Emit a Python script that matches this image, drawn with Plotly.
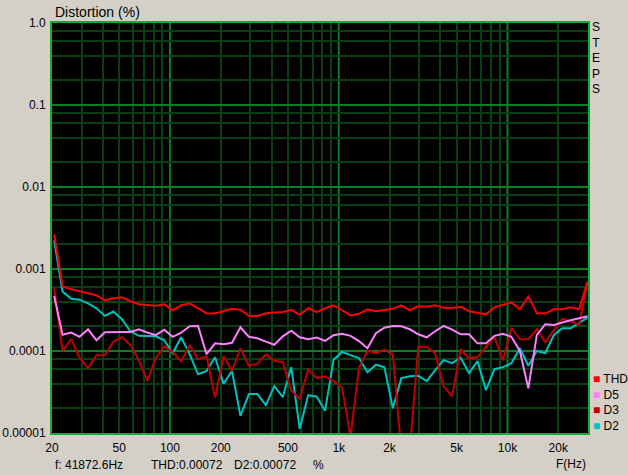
import math
import plotly.graph_objects as go

# ---------------- data ----------------
freq_hz = [20.6, 23.1, 26.0, 29.1, 32.7, 36.7, 41.2, 46.2, 51.9, 58.3,
           65.4, 73.4, 82.4, 92.5, 103.8, 116.5, 130.8, 146.8, 164.8, 185.0,
           207.7, 233.1, 261.6, 293.7, 329.6, 370.0, 415.3, 466.2, 523.3, 587.3,
           659.3, 740.0, 830.6, 932.3, 1046.5, 1174.7, 1318.5, 1480.0, 1661.2, 1864.7,
           2093.0, 2349.3, 2637.0, 2960.0, 3322.4, 3729.3, 4186.0, 4698.6, 5274.0, 5919.9,
           6644.9, 7458.6, 8372.0, 9397.3, 10548, 11840, 13290, 14917, 16744, 18795,
           21096, 23680, 26580, 29834]

thd = [2.64e-3, 6.14e-4, 5.65e-4, 5.34e-4, 5.05e-4, 4.77e-4, 4.15e-4, 4.39e-4, 4.51e-4, 4.04e-4,
       3.71e-4, 3.61e-4, 3.56e-4, 3.71e-4, 3.14e-4, 3.61e-4, 3.82e-4, 3.32e-4, 2.88e-4, 2.86e-4,
       3.05e-4, 3.27e-4, 3.18e-4, 2.69e-4, 2.67e-4, 2.88e-4, 2.94e-4, 2.99e-4, 3.18e-4, 2.76e-4,
       3.32e-4, 2.97e-4, 3.32e-4, 3.61e-4, 3.14e-4, 2.72e-4, 2.84e-4, 3.23e-4, 3.05e-4, 3.18e-4,
       3.27e-4, 3.61e-4, 3.14e-4, 3.51e-4, 3.46e-4, 3.61e-4, 3.36e-4, 3.34e-4, 3.46e-4, 3.05e-4,
       2.92e-4, 2.80e-4, 3.41e-4, 3.66e-4, 3.92e-4, 3.23e-4, 4.63e-4, 2.88e-4, 2.86e-4, 3.23e-4,
       3.23e-4, 3.41e-4, 3.23e-4, 7.07e-4]

d5 = [4.68e-4, 1.58e-4, 1.68e-4, 1.49e-4, 1.84e-4, 1.35e-4, 1.69e-4, 1.71e-4, 1.71e-4, 1.71e-4,
      1.84e-4, 1.68e-4, 1.56e-4, 1.82e-4, 1.49e-4, 1.67e-4, 2.00e-4, 2.02e-4, 9.14e-5, 1.24e-4,
      1.21e-4, 1.26e-4, 1.95e-4, 1.49e-4, 1.43e-4, 1.30e-4, 1.19e-4, 1.51e-4, 1.77e-4, 1.47e-4,
      1.39e-4, 1.46e-4, 1.33e-4, 1.56e-4, 1.62e-4, 1.53e-4, 1.32e-4, 1.08e-4, 1.65e-4, 1.92e-4,
      2.02e-4, 2.00e-4, 1.84e-4, 1.60e-4, 1.47e-4, 1.74e-4, 2.02e-4, 1.82e-4, 1.60e-4, 1.60e-4,
      1.24e-4, 1.24e-4, 1.53e-4, 1.62e-4, 1.49e-4, 1.00e-4, 3.5e-5, 1.56e-4, 2.12e-4, 2.08e-4,
      2.24e-4, 2.37e-4, 2.51e-4, 2.65e-4]

d3 = [5.8e-4, 1.00e-4, 1.40e-4, 8.3e-5, 6.2e-5, 8.9e-5, 8.9e-5, 1.30e-4, 1.47e-4, 1.18e-4,
      7.7e-5, 4.3e-5, 8.2e-5, 1.14e-4, 9.7e-5, 7.5e-5, 1.18e-4, 7.9e-5, 8.6e-5, 2.7e-5,
      8.6e-5, 5.7e-5, 1.08e-4, 6.6e-5, 7.0e-5, 9.1e-5, 7.6e-5, 7.3e-5, 3.3e-5, 2.6e-5,
      6.0e-5, 4.7e-5, 4.9e-5, 4.3e-5, 3.6e-5, 9e-6, 6.2e-5, 1.0e-4, 9.4e-5, 1.04e-4,
      9.1e-5, 6e-6, 6e-6, 1.13e-4, 1.13e-4, 9.3e-5, 3.7e-5, 2.8e-5, 1.05e-4, 8.1e-5,
      8.5e-5, 1.14e-4, 1.49e-4, 7.7e-5, 1.92e-4, 1.39e-4, 1.39e-4, 1.84e-4, 1.28e-4, 1.79e-4,
      2.47e-4, 2.31e-4, 2.09e-4, 6.9e-4]

d2 = [2.23e-3, 5.3e-4, 4.33e-4, 4.23e-4, 3.82e-4, 3.32e-4, 2.68e-4, 3.03e-4, 2.44e-4, 1.74e-4,
      1.53e-4, 1.53e-4, 1.51e-4, 1.35e-4, 9.4e-5, 1.47e-4, 9.1e-5, 5.2e-5, 5.7e-5, 8.4e-5,
      4.0e-5, 5.7e-5, 1.62e-5, 2.98e-5, 2.98e-5, 2.19e-5, 3.73e-5, 2.74e-5, 6.35e-5, 1.12e-5,
      2.90e-5, 2.77e-5, 1.87e-5, 7.84e-5, 9.75e-5, 8.9e-5, 8.2e-5, 5.5e-5, 6.8e-5, 6.35e-5,
      2.0e-5, 4.67e-5, 4.93e-5, 5.0e-5, 4.29e-5, 5.84e-5, 7.73e-5, 7.11e-5, 8.28e-5, 5.37e-5,
      7.52e-5, 3.33e-5, 6.0e-5, 6.35e-5, 7.11e-5, 1.08e-4, 6.6e-5, 1.0e-4, 9.4e-5, 1.56e-4,
      1.89e-4, 1.89e-4, 2.21e-4, 2.56e-4]

legend_names = ["THD", "D5", "D3", "D2"]

x_tick_vals = [20, 50, 100, 200, 500, 1000, 2000, 5000, 10000, 20000]
x_tick_text = ["20", "50", "100", "200", "500", "1k", "2k", "5k", "10k", "20k"]
x_decade_vals = [100, 1000, 10000]
y_tick_vals = [1e-5, 1e-4, 1e-3, 1e-2, 1e-1, 1.0]
y_tick_text = ["0.00001", "0.0001", "0.001", "0.01", "0.1", "1.0"]

status_freq = "f: 41872.6Hz"
status_thd = "THD:0.00072"
status_d2 = "D2:0.00072"

# ---------------- styling ----------------
COLORS = {"THD": "#ff0000", "D5": "#ff80ff", "D3": "#c00000", "D2": "#00c0c0"}
BG = "#d4d0c8"
FRAME = "#14a838"
MAJOR = "#0b7d24"
MINOR = "#083f14"
FONT = "Liberation Sans, Arial, sans-serif"
TXT = "#000000"

W, H = 628, 475
L, R, T, B = 52, 40, 23, 42
PW, PH = W - L - R, H - T - B

x_minor_vals = [m * 10 ** e for e in (1, 2, 3) for m in range(2, 10)] + [20000, 30000]
y_minor_vals = [m * 10.0 ** e for e in range(-5, 0) for m in (2, 4, 6, 8)]
x_range = [math.log10(20), math.log10(30000)]


def px_x(px):
    return (px - L) / PW


def px_y(py):
    return (H - B - py) / PH


series = {"D2": d2, "D3": d3, "D5": d5, "THD": thd}

fig = go.Figure()
for name in ["D2", "D3", "D5", "THD"]:
    fig.add_trace(go.Scatter(x=freq_hz, y=series[name], mode="lines", name=name,
                             line=dict(color=COLORS[name], width=2), showlegend=False,
                             hoverinfo="skip"))

tickfont = dict(family=FONT, size=12, color=TXT)

fig.update_layout(
    width=W, height=H,
    margin=dict(l=L, r=R, t=T, b=B, autoexpand=False),
    paper_bgcolor=BG, plot_bgcolor="#000000",
    showlegend=False,
    xaxis=dict(type="log", range=x_range, tickmode="array",
               tickvals=x_tick_vals, ticktext=x_tick_text,
               showgrid=False, ticklabelstandoff=3,
               minor=dict(tickmode="array", tickvals=x_minor_vals, showgrid=True,
                          gridcolor=MINOR, gridwidth=2, ticks=""),
               showline=True, mirror=True, linecolor=FRAME, linewidth=2,
               ticks="", zeroline=False, tickfont=tickfont, fixedrange=True),
    yaxis=dict(type="log", range=[-5, 0], tickmode="array",
               tickvals=y_tick_vals, ticktext=y_tick_text,
               showgrid=True, gridcolor=MAJOR, gridwidth=2, ticklabelstandoff=2,
               minor=dict(tickmode="array", tickvals=y_minor_vals, showgrid=True,
                          gridcolor=MINOR, gridwidth=2, ticks=""),
               showline=True, mirror=True, linecolor=FRAME, linewidth=2,
               ticks="", zeroline=False, tickfont=tickfont, fixedrange=True),
)

# brighter decade grid lines on the frequency axis
shapes = [dict(type="line", xref="x", yref="paper", x0=v, x1=v, y0=0, y1=1,
               layer="below", line=dict(color=MAJOR, width=2)) for v in x_decade_vals]
fig.update_layout(shapes=shapes)

ann = []


def text(s, x, y, anchor="left", size=12, color=TXT, family=FONT):
    ann.append(dict(text=s, x=px_x(x), y=px_y(y), xref="paper", yref="paper",
                    xanchor=anchor, yanchor="middle", showarrow=False,
                    font=dict(family=family, size=size, color=color)))


text("Distortion (%)", 53, 12, size=14)
text("<br>".join("STEPS"), 596, 58, anchor="center", size=12)
legend_lines = "<br>".join(
    "<span style='color:%s'>\u25a0</span> %s" % (COLORS[n], n) for n in legend_names)
ann.append(dict(text=legend_lines, x=px_x(591), y=px_y(402), xref="paper", yref="paper",
                xanchor="left", yanchor="middle", align="left", showarrow=False,
                font=dict(family=FONT, size=12, color=TXT)))
text(status_freq, 53, 465)
text(status_thd, 149, 465)
text(status_d2, 232, 465)
text("%", 311, 465)
text("F(Hz)", 588, 464, anchor="right")

fig.update_layout(annotations=ann)
fig.write_html("out.html", config={"displayModeBar": False},
               post_script="document.body.style.margin='0px';document.body.style.padding='0px';")
